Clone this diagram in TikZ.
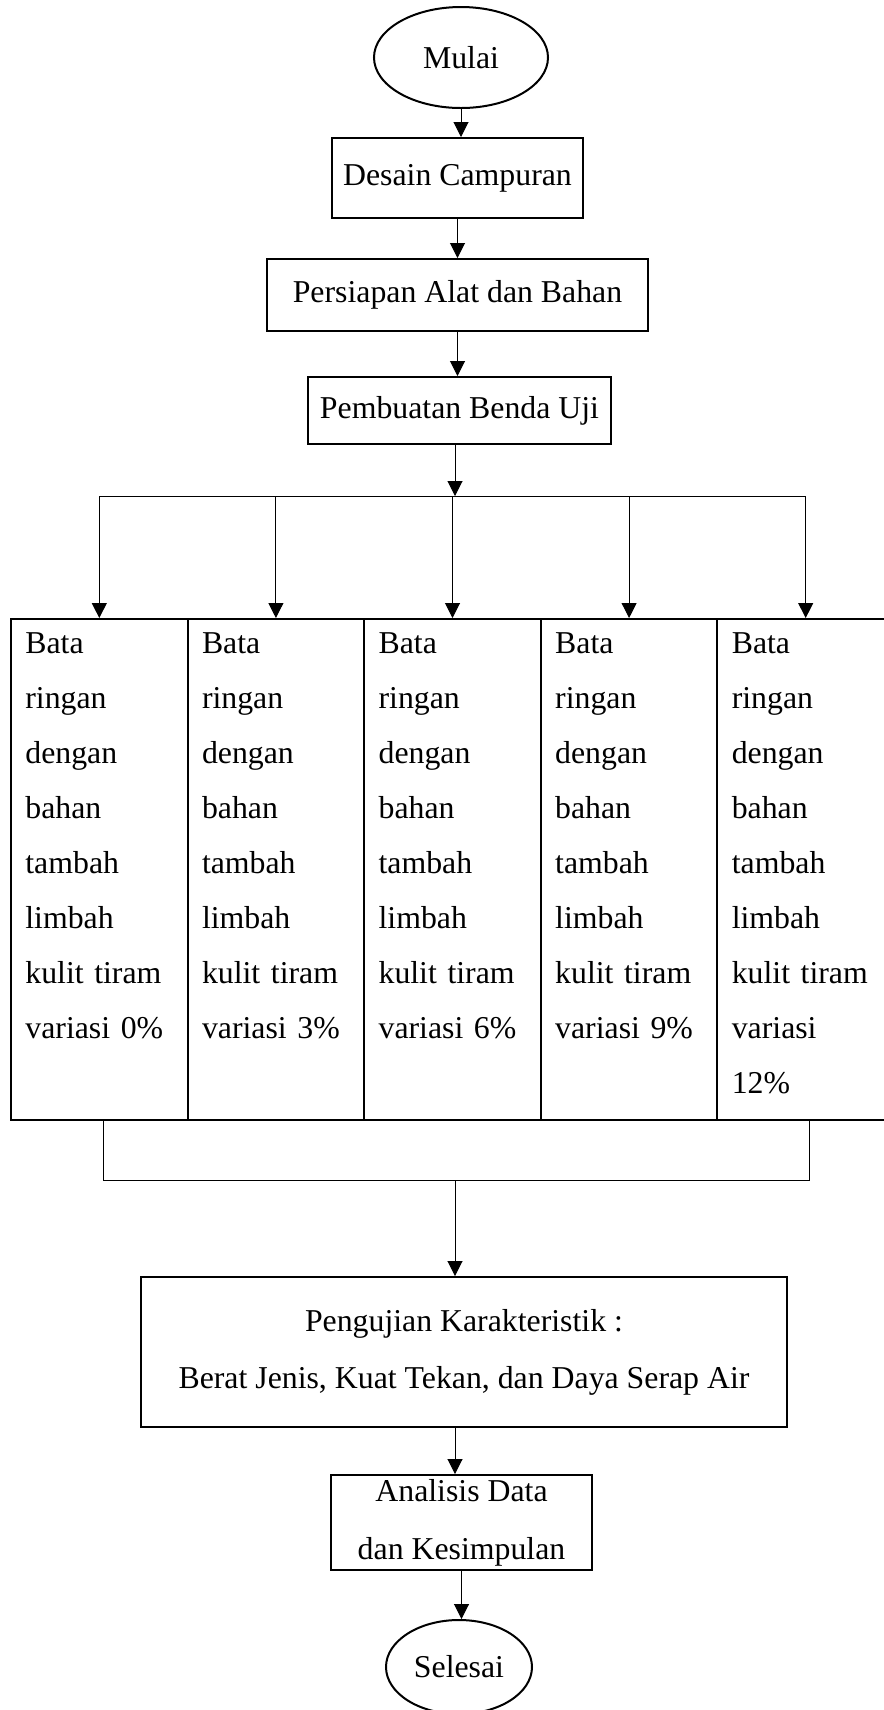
\documentclass[tikz,border=0pt]{standalone}
\usepackage{fontspec}
\setmainfont{Liberation Serif}
\usetikzlibrary{arrows.meta,positioning,shapes.geometric}

\begin{document}
\begin{tikzpicture}[x=0.5pt,y=-0.5pt,
     font=\fontsize{15.9}{27.5}\selectfont,
     kotak/.style={draw,line width=1pt,inner sep=0pt,align=center},
     elips/.style={draw,ellipse,line width=1pt,inner sep=0pt},
     sel/.style={draw,line width=1pt,anchor=north west,inner sep=0pt,minimum width=88.3pt,minimum height=250.5pt},
     isi/.style={anchor=base west,inner sep=0pt,text width=75pt,align=left},
     garis/.style={line width=0.5pt},
     panah/.style={line width=0.5pt,-{Triangle[length=7.5pt,width=7.5pt]}}]
   \useasboundingbox (0,0) rectangle (884,1710);
   \node[elips,minimum width=87pt,minimum height=50.5pt] (mulai) at (461,57.5) {Mulai};
   \node[kotak,minimum width=125.5pt,minimum height=40pt] (desain) at (457.5,178) {Desain Campuran};
   \node[kotak,minimum width=190.5pt,minimum height=36pt] (persiapan) at (457.5,295) {Persiapan Alat dan Bahan};
   \node[kotak,minimum width=151.5pt,minimum height=33.5pt] (pembuatan) at (459.5,410.5) {Pembuatan Benda Uji};
   \draw[panah] (mulai.south) -- (mulai.south |- desain.north);
   \draw[panah] (desain.south) -- (desain.south |- persiapan.north);
   \draw[panah] (persiapan.south) -- (persiapan.south |- pembuatan.north);
   % lima variasi
   \foreach \i/\x in {1/10,2/186.6,3/363.2,4/539.8,5/716.4}
     \node[sel] (k\i) at (\x,618) {};
   \foreach \i/\x/\p in {1/25/variasi 0\%,2/201.6/variasi 3\%,3/378.2/variasi 6\%,4/554.8/variasi 9\%,5/731.4/variasi\\12\%}
     \node[isi] (t\i) at (\x,653) {Bata\\ringan\\dengan\\bahan\\tambah\\limbah\\kulit tiram\\\p};
   \coordinate (cabang) at (455,496);
   \draw[panah] (pembuatan.south -| cabang) -- (cabang);
   \draw[garis] (k1.north |- cabang) -- (k5.north |- cabang);
   \foreach \i in {1,...,5}
     \draw[panah] (k\i.north |- cabang) -- (k\i.north);
   \coordinate (gabung) at (455,1180);
   \draw[garis] ([xshift=2pt]k1.south) |- ([xshift=2pt]k5.south |- gabung) -- ([xshift=2pt]k5.south);
   \node[kotak,font=\fontsize{15.9}{28.5}\selectfont,minimum width=323pt,minimum height=75pt] (pengujian) at (464,1352) {Pengujian Karakteristik :\\Berat Jenis, Kuat Tekan, dan Daya Serap Air};
   \node[kotak,font=\fontsize{15.9}{29}\selectfont,minimum width=130.5pt,minimum height=47.5pt] (analisis) at (461.5,1522.5) {Analisis Data\\dan Kesimpulan};
   \node[elips,minimum width=73pt,minimum height=47pt] (selesai) at (459,1667) {Selesai};
   \draw[panah] (gabung) -- (gabung |- pengujian.north);
   \draw[panah] (gabung |- pengujian.south) -- (gabung |- analisis.north);
   \draw[panah] (analisis.south) -- (analisis.south |- selesai.north);
\end{tikzpicture}
\end{document}
